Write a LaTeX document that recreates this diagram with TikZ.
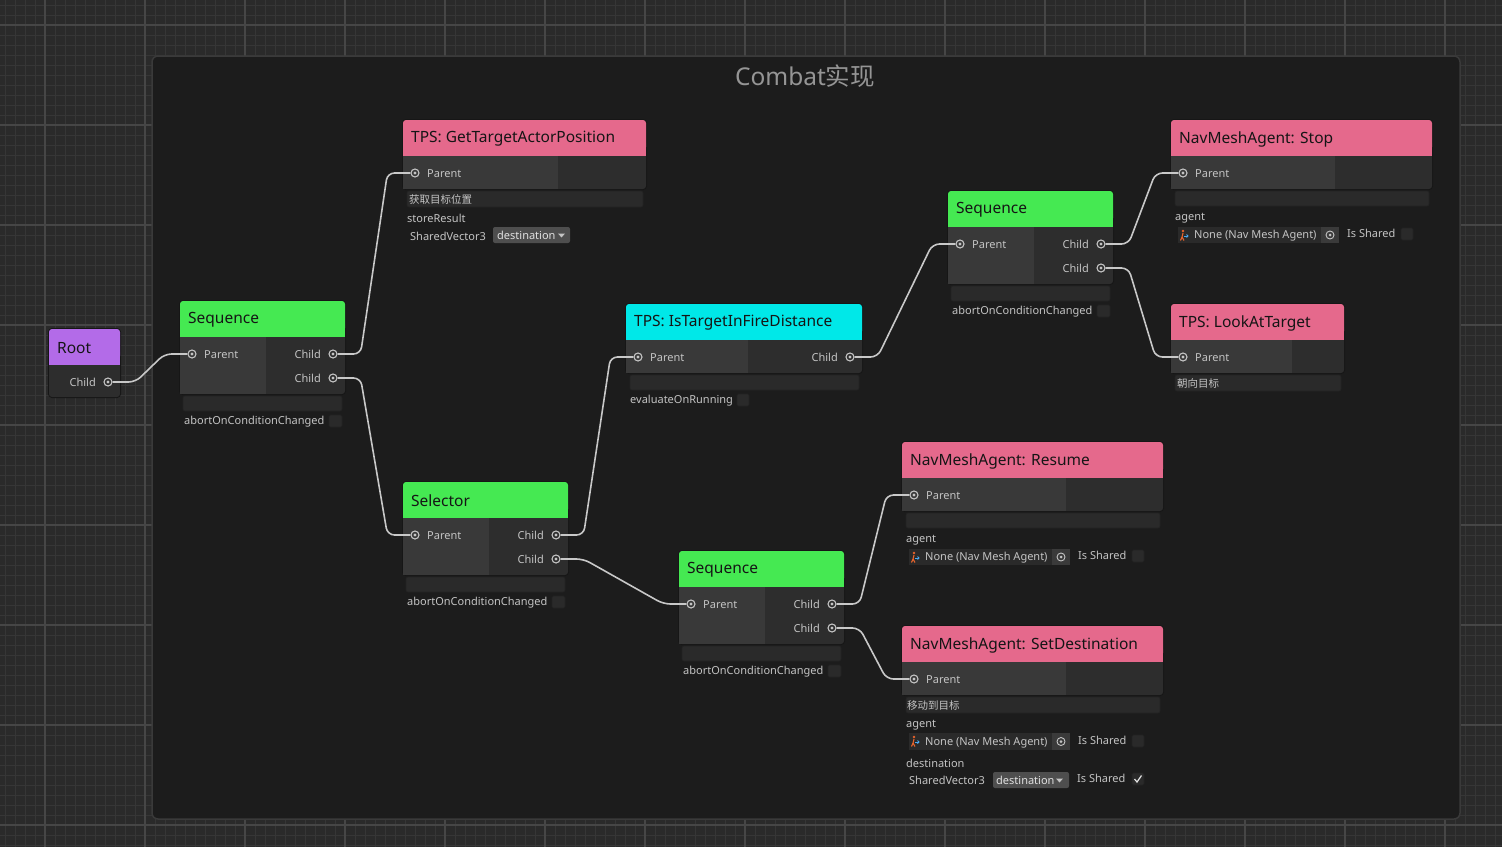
\documentclass[tikz,border=0pt]{standalone}
\usepackage{fontspec}
\setmainfont{Noto Sans}
\newfontfamily\cjk{Noto Sans CJK SC}
\usetikzlibrary{calc}
\definecolor{bgout}{HTML}{2A2A2A}
\definecolor{gridmin}{HTML}{363636}
\definecolor{gridmaj}{HTML}{464646}
\definecolor{panelbg}{HTML}{1C1C1C}
\definecolor{panelln}{HTML}{3A3A3A}
\definecolor{hgreen}{HTML}{45E952}
\definecolor{hpink}{HTML}{E5698C}
\definecolor{hcyan}{HTML}{00E8E8}
\definecolor{hpurple}{HTML}{B36BE8}
\definecolor{bodyL}{HTML}{393939}
\definecolor{bodyR}{HTML}{2D2D2D}
\definecolor{nborder}{HTML}{161616}
\definecolor{fieldbg}{HTML}{2A2A2A}
\definecolor{fieldln}{HTML}{232323}
\definecolor{txtlt}{HTML}{C4C4C4}
\definecolor{txtttl}{HTML}{959595}
\definecolor{txtdk}{HTML}{151515}
\definecolor{connc}{HTML}{C8C8C8}
\definecolor{ddbg}{HTML}{4E4E4E}
\definecolor{tgtbg}{HTML}{3A3A3A}
\definecolor{iorange}{HTML}{E8642C}
\definecolor{iblue}{HTML}{4AA8F0}
\tikzset{
  ttl/.style={anchor=west, inner sep=0pt, text=txtdk, font=\fontsize{15.5}{18}\selectfont},
  lbl/.style={inner sep=0pt, text=txtlt, font=\fontsize{11}{13}\selectfont},
  port/.style={circle, draw=txtlt, line width=1.1pt, minimum size=8pt, inner sep=0pt,
    path picture={\fill[txtlt] (path picture bounding box.center) circle (1.7pt);}},
  conn/.style={draw=connc, line width=1.6pt, rounded corners=7pt},
  field/.style={fill=fieldbg, draw=fieldln, line width=0.6pt, rounded corners=2pt},
  chk/.style={fill=fieldbg, draw=fieldln, line width=0.6pt, rounded corners=1.5pt},
  dd/.style={fill=ddbg, rounded corners=2pt},
}
% #1 name #2 x1 #3 ytop #4 x2 #5 ybot #6 xsplit #7 colour #8 title
\newcommand\bbox[8]{%
  \fill[nborder, rounded corners=4pt] (#2-1,#3-1) rectangle (#4+1,#5+1);
  \fill[bodyR, rounded corners=3pt] (#2,#3+20) rectangle (#4,#5);
  \fill[bodyL] (#2,#3+36) rectangle (#6,#5);
  \fill[#7, rounded corners=3pt] (#2,#3) rectangle (#4,#3+30);
  \fill[#7] (#2,#3+15) rectangle (#4,#3+36);
  \node[ttl] (#1) at (#2+8,#3+19) {#8};
}
% agent object field: #1 x1 #2 y1 #3 x2 #4 y2
\newcommand\objfield[4]{%
  \fill[fieldbg] (#1,#2) rectangle (#3,#4);
  \fill[tgtbg] (#3-18,#2) rectangle (#3,#4);
  \draw[txtlt, line width=0.9pt] ($(#3-9,#2/2+#4/2)$) circle (4pt);
  \fill[txtlt] ($(#3-9,#2/2+#4/2)$) circle (1.5pt);
  \fill[iorange] (#1+5,#2+4) circle (1.3pt);
  \draw[iorange, line width=1.1pt] (#1+5,#2+6) -- (#1+4,#2+10) -- (#1+2.5,#2+13.5);
  \draw[iorange, line width=1.1pt] (#1+4,#2+10) -- (#1+6,#2+13.5);
  \draw[iblue, line width=1pt] (#1+6,#2+9) -- (#1+10,#2+9);
  \draw[iblue, line width=0.9pt] (#1+8.5,#2+7.5) -- (#1+10,#2+9) -- (#1+8.5,#2+10.5);
}
\begin{document}
\begin{tikzpicture}[x=1pt, y=-1pt]
\useasboundingbox (0,0) rectangle (1502,847);
\fill[bgout] (0,0) rectangle (1502,847);
\foreach \i in {5,15,...,1495} {\draw[gridmin, line width=1pt] (\i,0) -- (\i,847);}
\foreach \i in {5,15,...,845} {\draw[gridmin, line width=1pt] (0,\i) -- (1502,\i);}
\foreach \i in {45,145,...,1445} {\draw[gridmaj, line width=1.2pt] (\i,0) -- (\i,847);}
\foreach \i in {25,125,...,825} {\draw[gridmaj, line width=1.2pt] (0,\i) -- (1502,\i);}
% panel
\draw[panelln, fill=panelbg, line width=1.5pt, rounded corners=6pt] (152,56) rectangle (1460,819);
\node[inner sep=0pt, text=txtttl, font=\fontsize{24.5}{28}\selectfont] (title) at (805,76) {Combat{\cjk 实现}};

% ---------- Root
\bbox{root}{49}{329}{120}{397}{49}{hpurple}{Root}
\node[port] (rootc) at (108,382) {};
\node[lbl, anchor=east] (rootcl) at (96,382.5) {Child};

% ---------- Sequence 1
\bbox{sa}{180}{301}{345}{394}{266}{hgreen}{Sequence}
\node[port] (sap) at (192,354) {};
\node[lbl, anchor=west] (sapl) at (204,354.5) {Parent};
\node[port] (sac1) at (333,354) {};
\node[port] (sac2) at (333,378) {};
\node[lbl, anchor=east] (sac1l) at (321,354.5) {Child};
\node[lbl, anchor=east] (sac2l) at (321,378.5) {Child};
\draw[field] (183,396) rectangle (342,411);
\node[lbl, anchor=west] (saab) at (184,421.5) {abortOnConditionChanged};
\draw[chk] (329,415) rectangle (342,427);

% ---------- GetTargetActorPosition
\bbox{gt}{403}{120}{646}{189}{558}{hpink}{TPS: GetTargetActorPosition}
\node[port] (gtp) at (415,173) {};
\node[lbl, anchor=west] (gtpl) at (427,173.5) {Parent};
\draw[field] (407,191) rectangle (643,207);
\node[lbl, anchor=west, font=\cjk\fontsize{10.5}{12}\selectfont] (gtcn) at (409,199.5) {获取目标位置};
\node[lbl, anchor=west] (gtsr) at (407,218.5) {storeResult};
\node[lbl, anchor=west] (gtsv) at (410,236) {SharedVector3};
\fill[dd] (493,227) rectangle (570,243);
\node[lbl, anchor=west, text=white!88!black] (gtdd) at (497,235.5) {destination};
\fill[txtlt] (558,233.5) -- (565,233.5) -- (561.5,237.5) -- cycle;

% ---------- Sequence 2 (top right)
\bbox{sb}{948}{191}{1113}{284}{1034}{hgreen}{Sequence}
\node[port] (sbp) at (960,244) {};
\node[lbl, anchor=west] (sbpl) at (972,244.5) {Parent};
\node[port] (sbc1) at (1101,244) {};
\node[port] (sbc2) at (1101,268) {};
\node[lbl, anchor=east] (sbc1l) at (1089,244.5) {Child};
\node[lbl, anchor=east] (sbc2l) at (1089,268.5) {Child};
\draw[field] (951,286) rectangle (1110,301);
\node[lbl, anchor=west] (sbab) at (952,311.5) {abortOnConditionChanged};
\draw[chk] (1097,305) rectangle (1110,317);

% ---------- NavMeshAgent: Stop
\bbox{st}{1171}{120}{1432}{189}{1335}{hpink}{NavMeshAgent: Stop}
\node[port] (stp) at (1183,173) {};
\node[lbl, anchor=west] (stpl) at (1195,173.5) {Parent};
\draw[field] (1175,191) rectangle (1429,206);
\node[lbl, anchor=west] (stag) at (1175,218.5) {agent};
\objfield{1178}{227}{1339}{243}
\node[lbl, anchor=west] (stno) at (1194,235.5) {None (Nav Mesh Agent)};
\node[lbl, anchor=west] (stis) at (1347,233.5) {Is Shared};
\draw[chk] (1401,228) rectangle (1413,240);

% ---------- TPS: LookAtTarget
\bbox{lk}{1171}{304}{1344}{373}{1292}{hpink}{TPS: LookAtTarget}
\node[port] (lkp) at (1183,357) {};
\node[lbl, anchor=west] (lkpl) at (1195,357.5) {Parent};
\draw[field] (1175,375) rectangle (1341,391);
\node[lbl, anchor=west, font=\cjk\fontsize{10.5}{12}\selectfont] (lkcn) at (1177,383.5) {朝向目标};

% ---------- TPS: IsTargetInFireDistance
\bbox{fd}{626}{304}{862}{373}{748}{hcyan}{TPS: IsTargetInFireDistance}
\node[port] (fdp) at (638,357) {};
\node[lbl, anchor=west] (fdpl) at (650,357.5) {Parent};
\node[port] (fdc) at (850,357) {};
\node[lbl, anchor=east] (fdcl) at (838,357.5) {Child};
\draw[field] (630,375) rectangle (859,390);
\node[lbl, anchor=west] (fdev) at (630,400.5) {evaluateOnRunning};
\draw[chk] (737,394) rectangle (749,406);

% ---------- Selector
\bbox{se}{403}{482}{568}{575}{489}{hgreen}{Selector}
\node[port] (sep) at (415,535) {};
\node[lbl, anchor=west] (sepl) at (427,535.5) {Parent};
\node[port] (sec1) at (556,535) {};
\node[port] (sec2) at (556,559) {};
\node[lbl, anchor=east] (sec1l) at (544,535.5) {Child};
\node[lbl, anchor=east] (sec2l) at (544,559.5) {Child};
\draw[field] (406,577) rectangle (565,592);
\node[lbl, anchor=west] (seab) at (407,602.5) {abortOnConditionChanged};
\draw[chk] (552,596) rectangle (565,608);

% ---------- Sequence 3
\bbox{sc}{679}{551}{844}{644}{765}{hgreen}{Sequence}
\node[port] (scp) at (691,604) {};
\node[lbl, anchor=west] (scpl) at (703,604.5) {Parent};
\node[port] (scc1) at (832,604) {};
\node[port] (scc2) at (832,628) {};
\node[lbl, anchor=east] (scc1l) at (820,604.5) {Child};
\node[lbl, anchor=east] (scc2l) at (820,628.5) {Child};
\draw[field] (682,646) rectangle (841,661);
\node[lbl, anchor=west] (scab) at (683,671.5) {abortOnConditionChanged};
\draw[chk] (828,665) rectangle (841,677);

% ---------- NavMeshAgent: Resume
\bbox{rs}{902}{442}{1163}{511}{1066}{hpink}{NavMeshAgent: Resume}
\node[port] (rsp) at (914,495) {};
\node[lbl, anchor=west] (rspl) at (926,495.5) {Parent};
\draw[field] (906,513) rectangle (1160,528);
\node[lbl, anchor=west] (rsag) at (906,540.5) {agent};
\objfield{909}{549}{1070}{565}
\node[lbl, anchor=west] (rsno) at (925,557.5) {None (Nav Mesh Agent)};
\node[lbl, anchor=west] (rsis) at (1078,555.5) {Is Shared};
\draw[chk] (1132,550) rectangle (1144,562);

% ---------- NavMeshAgent: SetDestination
\bbox{sd}{902}{626}{1163}{695}{1066}{hpink}{NavMeshAgent: SetDestination}
\node[port] (sdp) at (914,679) {};
\node[lbl, anchor=west] (sdpl) at (926,679.5) {Parent};
\draw[field] (906,697) rectangle (1160,713);
\node[lbl, anchor=west, font=\cjk\fontsize{10.5}{12}\selectfont] (sdcn) at (907,705.5) {移动到目标};
\node[lbl, anchor=west] (sdag) at (906,725.5) {agent};
\objfield{909}{733}{1070}{750}
\node[lbl, anchor=west] (sdno) at (925,742.5) {None (Nav Mesh Agent)};
\node[lbl, anchor=west] (sdis) at (1078,740.5) {Is Shared};
\draw[chk] (1132,735) rectangle (1144,747);
\node[lbl, anchor=west] (sdde) at (906,763.5) {destination};
\node[lbl, anchor=west] (sdsv) at (909,780.5) {SharedVector3};
\fill[dd] (993,772) rectangle (1069,788);
\node[lbl, anchor=west, text=white!88!black] (sddd) at (996,780.5) {destination};
\fill[txtlt] (1056,778.5) -- (1063,778.5) -- (1059.5,782.5) -- cycle;
\node[lbl, anchor=west] (sdis2) at (1077,778.5) {Is Shared};
\draw[chk] (1132,773) rectangle (1144,785);
\draw[white!90!black, line width=1.2pt] (1134.5,779) -- (1137,782) -- (1141.5,775.5);

% ---------- connectors
\draw[conn] (rootc.east) -- ++(23,0) -- ($(sap.west)+(-23,0)$) -- (sap.west);
\draw[conn] (sac1.east) -- ++(23,0) -- ($(gtp.west)+(-23,0)$) -- (gtp.west);
\draw[conn] (sac2.east) -- ++(23,0) -- ($(sep.west)+(-23,0)$) -- (sep.west);
\draw[conn] (sec1.east) -- ++(23,0) -- ($(fdp.west)+(-23,0)$) -- (fdp.west);
\draw[conn] (sec2.east) -- ++(23,0) -- ($(scp.west)+(-23,0)$) -- (scp.west);
\draw[conn] (fdc.east) -- ++(23,0) -- ($(sbp.west)+(-23,0)$) -- (sbp.west);
\draw[conn] (sbc1.east) -- ++(23,0) -- ($(stp.west)+(-23,0)$) -- (stp.west);
\draw[conn] (sbc2.east) -- ++(23,0) -- ($(lkp.west)+(-23,0)$) -- (lkp.west);
\draw[conn] (scc1.east) -- ++(23,0) -- ($(rsp.west)+(-23,0)$) -- (rsp.west);
\draw[conn] (scc2.east) -- ++(23,0) -- ($(sdp.west)+(-23,0)$) -- (sdp.west);
\end{tikzpicture}
\end{document}
